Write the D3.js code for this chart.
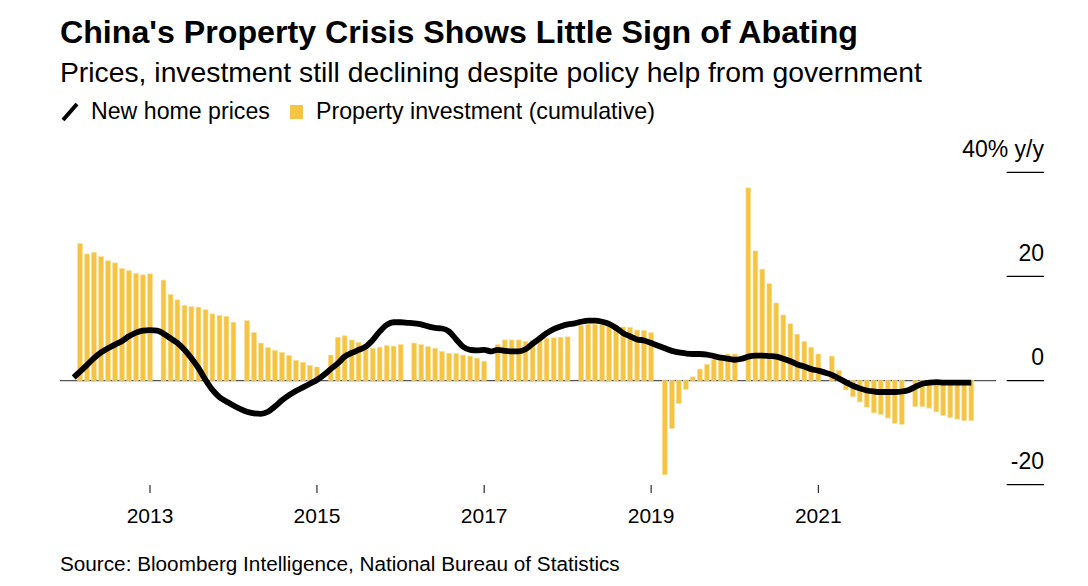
<!DOCTYPE html>
<html>
<head>
<meta charset="utf-8">
<script src="https://cdn.jsdelivr.net/npm/d3@7"></script>
<style>
  html, body { margin: 0; padding: 0; background: #ffffff; }
  svg { display: block; }
  text { font-family: "Liberation Sans", Arial, Helvetica, sans-serif; fill: #000; }
</style>
</head>
<body>
<svg id="chart" width="1088" height="586"></svg>
<script>
// ---------------- DATA ----------------
const titleText = "China's Property Crisis Shows Little Sign of Abating";
const subtitleText = "Prices, investment still declining despite policy help from government";
const legendLabels = ["New home prices", "Property investment (cumulative)"];
const sourceText = "Source: Bloomberg Intelligence, National Bureau of Statistics";

// New home prices, % y/y, monthly from Jan 2013 to Oct 2023
const priceStart = [2013, 0];
const homePrices = [
  0.6, 1.7, 3.0, 4.3, 5.4, 6.2, 6.9, 7.6, 8.5, 9.2, 9.6, 9.7,          // 2013
  9.6, 9.0, 8.1, 7.2, 5.9, 4.3, 2.4, 0.1, -1.8, -3.2, -4.0, -4.8,      // 2014
  -5.5, -6.0, -6.3, -6.4, -6.0, -5.0, -3.8, -2.8, -2.0, -1.3, -0.6, 0.1, // 2015
  1.1, 2.2, 3.3, 4.6, 5.3, 5.9, 6.5, 7.8, 9.4, 10.7, 11.2, 11.2,       // 2016
  11.1, 11.0, 10.8, 10.4, 10.1, 10.0, 9.4, 7.9, 6.5, 5.9, 5.8, 5.9,    // 2017
  5.6, 5.9, 5.7, 5.6, 5.6, 6.0, 7.1, 8.1, 9.1, 9.9, 10.4, 10.8,        // 2018
  11.0, 11.3, 11.5, 11.5, 11.3, 10.9, 10.1, 9.1, 8.5, 7.9, 7.7, 7.2,   // 2019
  6.7, 6.2, 5.7, 5.4, 5.2, 5.1, 5.1, 5.0, 4.7, 4.4, 4.2, 4.0,          // 2020
  4.2, 4.6, 4.8, 4.8, 4.7, 4.6, 4.2, 3.7, 3.1, 2.7, 2.2, 1.9,          // 2021
  1.5, 1.1, 0.4, -0.3, -1.0, -1.5, -1.9, -2.1, -2.2, -2.2, -2.2, -2.1, // 2022
  -1.8, -1.2, -0.6, -0.4, -0.3, -0.4, -0.4, -0.4, -0.4, -0.4           // 2023
];

// Property investment (cumulative), % y/y, Feb..Dec of each year (no January release)
const investYears = [2013, 2014, 2015, 2016, 2017, 2018, 2019, 2020, 2021, 2022, 2023];
const investment = [
  [26.3, 24.3, 24.6, 23.8, 23.0, 22.6, 21.5, 21.1, 20.6, 20.3, 20.5],
  [19.3, 16.5, 15.5, 14.4, 14.2, 14.1, 13.6, 12.8, 12.5, 12.3, 11.2],
  [11.5, 9.2, 7.2, 6.3, 5.8, 5.4, 4.8, 3.9, 3.5, 2.9, 2.6],
  [4.9, 8.3, 8.6, 7.8, 7.3, 6.0, 6.2, 6.4, 6.7, 6.6, 6.9],
  [7.2, 6.9, 6.5, 6.2, 5.6, 5.2, 5.2, 4.9, 4.7, 4.3, 3.7],
  [6.9, 7.8, 7.8, 7.8, 7.5, 7.7, 8.1, 8.1, 8.2, 8.3, 8.4],
  [10.6, 10.8, 10.8, 10.8, 10.5, 10.4, 10.3, 10.2, 9.7, 9.6, 9.2],
  [-18.1, -9.2, -4.4, -1.7, 0.7, 2.2, 3.1, 4.0, 4.0, 5.1, 5.1],
  [37.0, 24.9, 21.4, 18.6, 14.9, 12.6, 10.9, 8.9, 7.5, 6.4, 5.1],
  [4.7, 1.9, -1.8, -3.1, -4.1, -5.1, -6.2, -6.5, -7.2, -8.2, -8.4],
  [-5.0, -5.0, -5.3, -6.0, -6.7, -7.1, -7.4, -7.7, -7.7]
];

const xTickYears = [2013, 2015, 2017, 2019, 2021];
const yTicks = [-20, 0, 20, 40];

// ---------------- LAYOUT ----------------
const svg = d3.select("#chart");
const monthEnd = (y, m) => new Date(y, m + 1, 0); // last day of month m (0-based)

const x = d3.scaleTime()
  .domain([new Date(2013, 11, 31), new Date(2021, 11, 31)])
  .range([150, 818.3]);
const y = d3.scaleLinear().domain([-20, 40]).range([484.7, 172.3]);

const priceData = homePrices.map((v, i) => ({
  date: monthEnd(priceStart[0] + Math.floor((priceStart[1] + i) / 12), (priceStart[1] + i) % 12),
  value: v
}));
const barData = [];
investYears.forEach((yr, k) => {
  investment[k].forEach((v, j) => barData.push({ date: monthEnd(yr, j + 1), value: v }));
});

// fit text to a target width
function fitText(sel, targetWidth) {
  const node = sel.node();
  const fs = parseFloat(sel.attr("font-size"));
  const w = node.getComputedTextLength();
  sel.attr("font-size", (fs * targetWidth / w).toFixed(2));
}

// Title / subtitle
fitText(svg.append("text").attr("x", 60).attr("y", 43).attr("font-size", 28)
  .attr("font-weight", "bold").text(titleText), 798);
fitText(svg.append("text").attr("x", 60).attr("y", 82).attr("font-size", 22)
  .text(subtitleText), 862);

// Legend
const lg = svg.append("g");
lg.append("line").attr("x1", 63).attr("y1", 120).attr("x2", 77).attr("y2", 104)
  .attr("stroke", "#000").attr("stroke-width", 4);
fitText(lg.append("text").attr("x", 91).attr("y", 119).attr("font-size", 20).text(legendLabels[0]), 179);
lg.append("rect").attr("x", 290).attr("y", 105).attr("width", 13).attr("height", 14).attr("fill", "#f5c443");
fitText(lg.append("text").attr("x", 316).attr("y", 119).attr("font-size", 20).text(legendLabels[1]), 339);

// Zero baseline
svg.append("line").attr("x1", 60).attr("x2", 996).attr("y1", y(0)).attr("y2", y(0))
  .attr("stroke", "#555").attr("stroke-width", 1.2);

// Bars
const barW = 4.8;
svg.append("g").selectAll("rect").data(barData).join("rect")
  .attr("x", d => x(d.date) - barW / 2)
  .attr("width", barW)
  .attr("y", d => Math.min(y(d.value), y(0)))
  .attr("height", d => Math.abs(y(d.value) - y(0)))
  .attr("fill", "#f5c443")
  .attr("stroke", "#f9dd92")
  .attr("stroke-width", 0.6);

// Line
svg.append("path").datum(priceData)
  .attr("fill", "none")
  .attr("stroke", "#000")
  .attr("stroke-width", 5.8)
  .attr("stroke-linejoin", "round")
  .attr("d", d3.line().x(d => x(d.date)).y(d => y(d.value)).curve(d3.curveMonotoneX));

// Right-hand y axis
const ya = svg.append("g");
yTicks.forEach(t => {
  ya.append("line").attr("x1", 1006.7).attr("x2", 1044).attr("y1", y(t)).attr("y2", y(t))
    .attr("stroke", "#000").attr("stroke-width", 1.2);
  ya.append("text").attr("x", 1044).attr("y", y(t) - 15.5).attr("text-anchor", "end")
    .attr("font-size", 23).text(t === 40 ? "40% y/y" : String(t));
});

// X axis
const xa = svg.append("g");
xTickYears.forEach(yr => {
  const d = new Date(yr, 11, 31);
  xa.append("line").attr("x1", x(d)).attr("x2", x(d)).attr("y1", 485).attr("y2", 493)
    .attr("stroke", "#000").attr("stroke-width", 1);
  xa.append("text").attr("x", x(d)).attr("y", 523).attr("text-anchor", "middle")
    .attr("font-size", 21).text(d3.timeFormat("%Y")(d));
});

// Source
fitText(svg.append("text").attr("x", 60).attr("y", 571).attr("font-size", 18).text(sourceText), 560);
</script>
</body>
</html>
